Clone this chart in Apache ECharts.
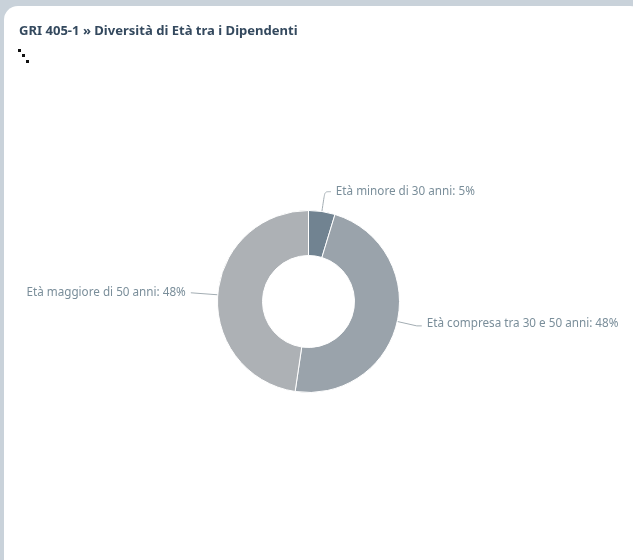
<!DOCTYPE html>
<html>
<head>
<meta charset="utf-8">
<style>
html,body{margin:0;padding:0;width:633px;height:560px;overflow:hidden;background:#c9d2da}
#chart{position:absolute;left:4px;top:6px;width:640px;height:570px;background:#fff;border-radius:14px;overflow:hidden}
</style>
<script src="https://cdn.jsdelivr.net/npm/echarts@6/dist/echarts.min.js"></script>
</head>
<body>
<div id="chart"></div>
<script>
var titleText = 'GRI 405-1 » Diversità di Età tra i Dipendenti';
var categories = ['Età minore di 30 anni', 'Età compresa tra 30 e 50 anni', 'Età maggiore di 50 anni'];
var values = [4.7, 47.65, 47.65];
var colors = ['#718391', '#9aa3ab', '#adb1b5'];
var lineLengths = [[20, 6], [20, 5], [27, 0]];
var lineSmooth = [0.3, 0, 0];
var iconDots = [[14, 43], [18, 48], [22, 54]];

var chart = echarts.init(document.getElementById('chart'));
chart.setOption({
  animation: false,
  backgroundColor: 'transparent',
  title: {
    text: titleText, left: 10, top: 14,
    textStyle: { fontFamily: 'Noto Sans', fontSize: 13.05, fontWeight: 700, color: '#34495e' }
  },
  graphic: iconDots.map(function (d) {
    return { type: 'rect', shape: { x: d[0], y: d[1], width: 3, height: 3 }, style: { fill: '#111' } };
  }),
  series: [{
    type: 'pie',
    center: [304.5, 295.5],
    radius: [46, 91],
    startAngle: 90,
    clockwise: true,
    itemStyle: { borderColor: '#fff', borderWidth: 1 },
    label: {
      formatter: function (p) { return p.name + ': ' + Math.round(p.value) + '%'; },
      fontFamily: 'Noto Sans', fontSize: 11.7, color: '#7a8e9a'
    },
    labelLine: { lineStyle: { color: '#a3adb3', width: 1 } },
    labelLayout: function (p) { return p.dataIndex === 1 ? { dy: -2 } : {}; },
    data: categories.map(function (c, i) {
      return {
        name: c, value: values[i],
        itemStyle: { color: colors[i] },
        labelLine: { length: lineLengths[i][0], length2: lineLengths[i][1], smooth: lineSmooth[i] }
      };
    })
  }]
});
</script>
</body>
</html>
